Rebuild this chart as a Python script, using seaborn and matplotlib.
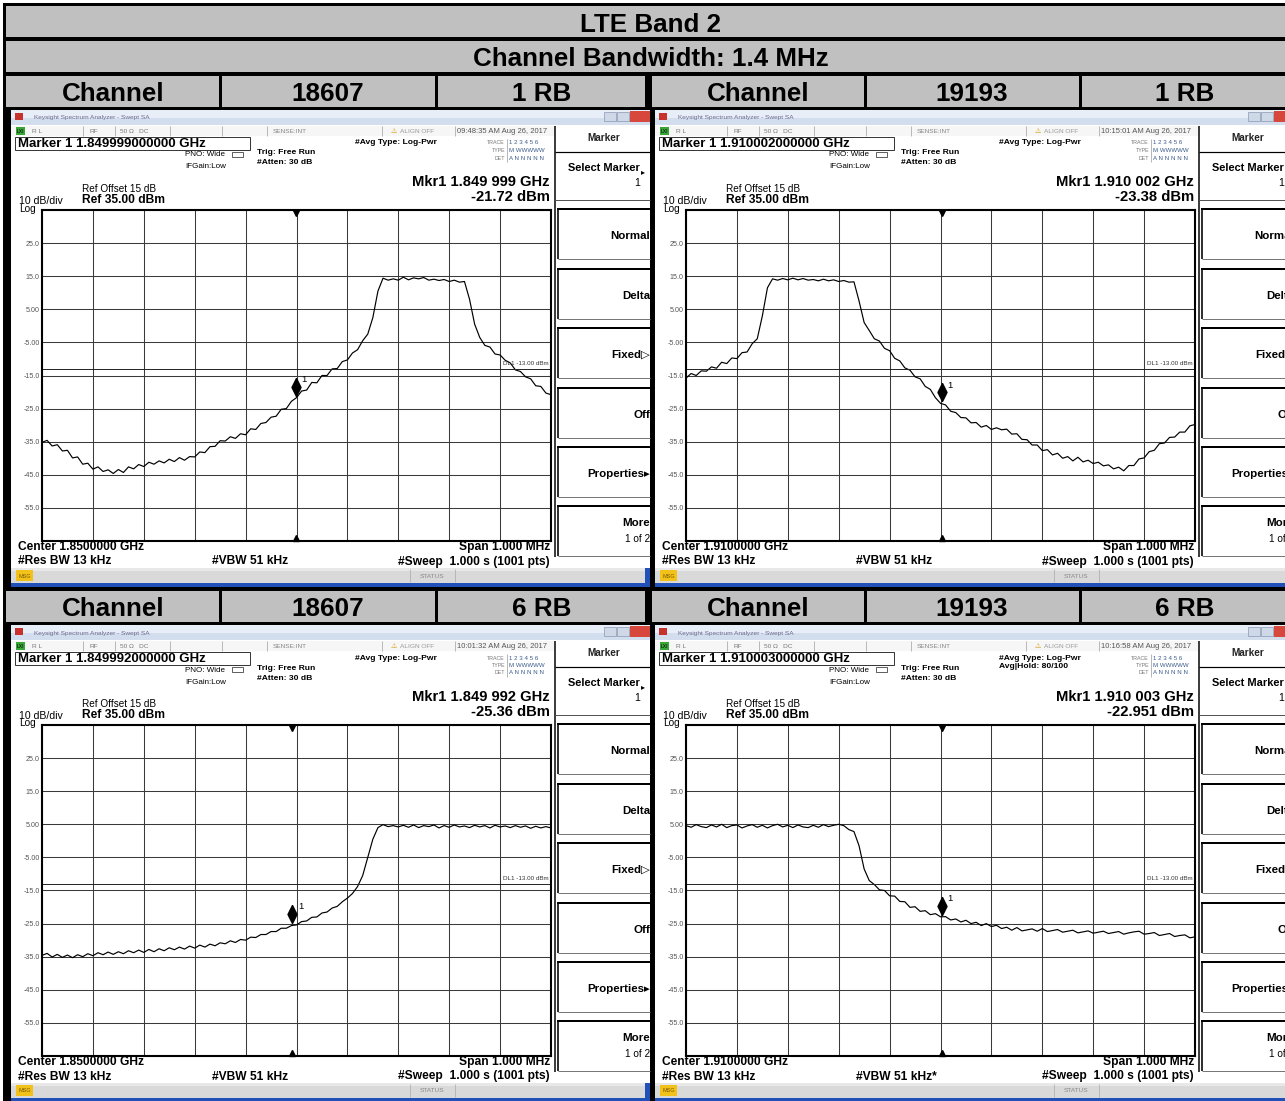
import numpy as np
import matplotlib
matplotlib.use("Agg")
import matplotlib.pyplot as plt
from matplotlib.patches import Rectangle
import seaborn as sns

W, H = 1285, 1101
PT = 0.72  # points per pixel at 100 dpi

# ---- table headings ----
band_title = "LTE Band 2"
bandwidth_title = "Channel Bandwidth: 1.4 MHz"
header_top = ["Channel", "18607", "1 RB", "Channel", "19193", "1 RB"]
header_bottom = ["Channel", "18607", "6 RB", "Channel", "19193", "6 RB"]

# ---- analyser screens (TL, TR, BL, BR) ----
marker_line = ["Marker 1 1.849999000000 GHz", "Marker 1 1.910002000000 GHz",
               "Marker 1 1.849992000000 GHz", "Marker 1 1.910003000000 GHz"]
mkr_freq = ["Mkr1 1.849 999 GHz", "Mkr1 1.910 002 GHz",
            "Mkr1 1.849 992 GHz", "Mkr1 1.910 003 GHz"]
mkr_level = ["-21.72 dBm", "-23.38 dBm", "-25.36 dBm", "-22.951 dBm"]
marker_offset_khz = [-1, 2, -8, 3]
marker_level_dbm = [-21.72, -23.38, -25.36, -22.951]
center_text = ["Center 1.8500000 GHz", "Center 1.9100000 GHz",
               "Center 1.8500000 GHz", "Center 1.9100000 GHz"]
clock_text = ["09:48:35 AM Aug 26, 2017", "10:15:01 AM Aug 26, 2017",
              "10:01:32 AM Aug 26, 2017", "10:16:58 AM Aug 26, 2017"]
vbw_text = ["#VBW 51 kHz", "#VBW 51 kHz", "#VBW 51 kHz", "#VBW 51 kHz*"]
avg_hold = [None, None, None, "Avg|Hold: 80/100"]
y_tick_labels = ["", "25.0", "15.0", "5.00", "-5.00", "-15.0", "-25.0",
                 "-35.0", "-45.0", "-55.0", ""]
ref_level = 35
db_per_div = 10
display_line = -13
span_khz = 1000
menu_keys = ["Normal", "Delta", "Fixed\u25B7", "Off", "Properties\u25B8", "More"]

# traces, 10 kHz steps from -500 kHz to +500 kHz (read from the screens)
trace_18607_1rb = [
    -35.2, -34.6, -36.3, -35.9, -37.8, -37.6, -39.9, -39.6, -41.8, -41.5,
    -43.3, -42.6, -44.0, -43.5, -44.6, -43.4, -44.3, -42.6, -43.2, -41.9,
    -42.5, -41.2, -41.8, -40.8, -41.4, -40.3, -41.0, -39.8, -40.6, -39.5,
    -39.6, -38.1, -38.3, -36.5, -36.4, -34.7, -34.8, -33.5, -34.0, -32.6,
    -32.9, -31.1, -31.3, -29.5, -29.2, -27.6, -27.3, -25.2, -25.0, -22.8,
    -21.7, -19.7, -19.4, -17.1, -17.2, -15.0, -15.0, -13.0, -12.9, -10.8,
    -10.3, -8.2, -7.2, -4.5, -2.5, 2.5, 10.5, 14.4, 13.8, 14.2,
    13.8, 14.7, 13.9, 14.5, 14.2, 14.6, 13.8, 14.1, 13.7, 14.0,
    13.4, 13.8, 13.2, 13.4, 8.0, 0.5, -3.5, -5.9, -6.4, -8.5,
    -8.8, -10.4, -11.2, -13.3, -13.8, -15.4, -16.0, -18.1, -18.3, -20.3,
    -20.8]
trace_19193_1rb = [
    -15.8, -14.4, -15.0, -13.6, -13.7, -12.4, -12.8, -11.0, -11.4, -9.7,
    -9.9, -8.1, -7.9, -5.4, -3.9, 3.0, 11.5, 14.2, 13.8, 14.3,
    13.9, 14.4, 13.9, 14.3, 13.8, 14.0, 13.6, 14.1, 13.6, 13.9,
    13.4, 13.7, 13.2, 13.3, 7.5, 1.0, -1.4, -3.9, -4.6, -6.8,
    -7.5, -9.8, -10.6, -12.7, -13.4, -15.4, -16.0, -18.3, -19.2, -21.7,
    -23.4, -23.9, -25.8, -26.2, -27.7, -27.8, -29.3, -29.2, -30.6, -30.1,
    -31.3, -30.8, -31.4, -31.2, -32.7, -32.6, -34.3, -34.4, -36.0, -36.0,
    -37.7, -37.4, -39.0, -38.5, -40.0, -39.5, -40.8, -39.7, -41.1, -40.6,
    -41.6, -41.2, -42.3, -42.0, -43.2, -42.7, -43.8, -42.2, -42.2, -40.2,
    -39.9, -38.0, -37.6, -35.6, -35.4, -33.7, -33.6, -32.1, -32.1, -30.2,
    -29.8]
trace_18607_6rb = [
    -34.6, -34.0, -35.1, -34.3, -35.2, -34.5, -35.3, -34.4, -35.0, -34.1,
    -34.7, -33.8, -34.4, -33.6, -34.3, -33.5, -34.1, -33.2, -33.8, -33.0,
    -33.7, -32.8, -33.5, -32.6, -33.2, -32.3, -32.9, -32.1, -32.7, -31.8,
    -32.4, -31.5, -32.1, -31.2, -31.7, -30.8, -31.1, -30.2, -30.7, -29.8,
    -30.0, -29.1, -29.2, -28.3, -28.3, -27.4, -27.4, -26.4, -26.4, -25.6,
    -25.4, -24.4, -24.2, -23.1, -23.0, -21.8, -21.5, -20.3, -19.8, -18.4,
    -17.3, -15.9, -13.8, -10.5, -5.0, 0.5, 4.0, 4.9, 4.3, 4.6,
    4.2, 4.7, 4.1, 4.8, 4.0, 4.6, 4.3, 4.8, 3.9, 4.6,
    4.1, 4.8, 4.2, 4.5, 4.0, 4.7, 4.2, 4.6, 3.9, 4.7,
    4.2, 4.5, 4.0, 4.6, 4.1, 4.5, 3.8, 4.4, 3.9, 4.3,
    3.9]
trace_19193_6rb = [
    4.6, 4.1, 4.9, 4.3, 4.0, 4.8, 4.2, 5.0, 4.0, 4.6,
    4.8, 3.9, 4.5, 4.9, 4.1, 4.7, 3.9, 4.6, 5.0, 4.2,
    4.7, 4.0, 4.8, 4.2, 4.0, 4.7, 4.1, 4.9, 4.3, 4.7,
    5.0, 4.6, 3.4, 2.8, -1.5, -8.5, -12.0, -13.2, -14.8, -15.0,
    -16.6, -16.7, -18.3, -18.4, -20.1, -19.9, -21.3, -21.1, -22.3, -22.0,
    -22.95, -22.9, -23.9, -23.6, -24.5, -24.0, -25.0, -24.6, -25.6, -25.0,
    -25.9, -25.5, -26.5, -26.1, -27.0, -26.2, -27.2, -26.9, -26.6, -27.3,
    -26.5, -27.4, -27.1, -26.8, -27.6, -27.3, -27.0, -27.8, -27.5, -27.2,
    -27.9, -27.6, -27.3, -28.0, -27.7, -27.4, -28.2, -27.8, -27.5, -27.3,
    -28.2, -28.0, -27.7, -28.6, -28.3, -28.0, -28.9, -28.6, -28.4, -29.3,
    -29.0]
traces = [trace_18607_1rb, trace_19193_1rb, trace_18607_6rb, trace_19193_6rb]

screen_origins = [(10, 110), (654, 110), (10, 625), (654, 625)]

sns.set_theme(style="white")
plt.rcParams['font.family'] = ['Liberation Sans', 'DejaVu Sans']
plt.rcParams['text.color'] = 'black'

fig = plt.figure(figsize=(W / 100, H / 100), dpi=100, facecolor='white')
base = fig.add_axes([0, 0, 1, 1])
base.set_xlim(0, W)
base.set_ylim(H, 0)
base.axis('off')


def rect(x, y, w, h, fc, ec='none', lw=0, z=1):
    base.add_patch(Rectangle((x, y), w, h, facecolor=fc, edgecolor=ec,
                             linewidth=lw, zorder=z))


# ---- table frame and headings ----
gray = '#c0c0c0'
rect(3, 3, W, H, 'black', z=0)
rect(6, 6, W, 31, gray)
rect(6, 41, W, 31, gray)
base.text(650, 22, band_title, ha='center', va='center_baseline',
          fontsize=26 * PT, fontweight='bold', color='black', zorder=5)
base.text(651, 57, bandwidth_title, ha='center', va='center_baseline',
          fontsize=26 * PT, fontweight='bold', color='black', zorder=5)

cell_centers = [113, 328, 542, 758, 972, 1185]
separators = [(219, 222), (435, 438), (645, 652), (864, 867), (1079, 1082)]


def header_row(y0, h, labels):
    rect(6, y0, W, h, gray)
    for x0, x1 in separators:
        rect(x0, y0, x1 - x0, h, 'black', z=2)
    for cx, s in zip(cell_centers, labels):
        base.text(cx, y0 + h / 2, s, ha='center', va='center_baseline',
                  fontsize=26 * PT, fontweight='bold', color='black', zorder=5)


header_row(76, 31, header_top)
header_row(591, 31, header_bottom)


def draw_screen(i, ox, oy, trace):
    def T(x, y, s, px, **kw):
        kw.setdefault('va', 'center')
        kw.setdefault('color', 'black')
        base.text(ox + x, oy + y, s, fontsize=px * PT, zorder=5, **kw)

    def R(x, y, w, h, fc, ec='none', lw=0):
        rect(ox + x, oy + y, w, h, fc, ec, lw, z=3)

    def L(xs, ys, c='black', lw=1.0):
        base.plot([ox + v for v in xs], [oy + v for v in ys], color=c,
                  lw=lw * PT, zorder=4, solid_capstyle='butt')

    R(1, 0, 639, 477, 'white')
    # window title bar
    R(1, 0, 639, 8, '#e8eef7')
    R(1, 8, 639, 7, '#d2ddee')
    R(5, 3, 8, 7, '#c8322d')
    T(24, 8, 'Keysight Spectrum Analyzer - Swept SA', 6.5, color='#6b6b8e')
    R(594, 2, 12, 9, '#cfd8e6', '#8898b2', 0.5)
    R(607, 2, 12, 9, '#cfd8e6', '#8898b2', 0.5)
    R(620, 1, 20, 11, '#d8473b')
    # status row
    R(1, 16, 544, 10, '#f6f6f6')
    R(6, 17, 9, 8, '#3aa63a')
    T(7, 21.5, 'LXI', 5)
    T(22, 21.5, 'R L', 6.5, color='#777')
    T(80, 21.5, 'RF', 6.5, color='#777')
    T(110, 21.5, '50 \u03A9   DC', 6.5, color='#777')
    T(263, 21.5, 'SENSE:INT', 6.5, color='#888')
    T(381, 21.5, '\u26A0', 7, color='#d09a00')
    T(390, 21.5, 'ALIGN OFF', 6.5, color='#999')
    T(447, 21.5, clock_text[i], 7.6, color='#555')
    for sx in [73, 105, 160, 212, 257, 372, 445]:
        L([sx, sx], [16, 26], '#aaa', 0.8)
    # marker line and settings
    R(5, 27, 235, 13, 'white', '#333', 0.7)
    T(8, 34, marker_line[i], 13.2, fontweight='bold')
    T(175, 45, 'PNO: Wide', 8)
    T(175, 57, 'IFGain:Low', 8)
    R(222, 42, 11, 5, 'white', '#444', 0.6)
    T(247, 43, 'Trig: Free Run', 8.5, fontweight='bold')
    T(247, 53, '#Atten: 30 dB', 8.5, fontweight='bold')
    T(345, 33, '#Avg Type: Log-Pwr', 8.5, fontweight='bold')
    if avg_hold[i]:
        T(345, 42, avg_hold[i], 8.5, fontweight='bold')
    T(495, 33, 'TRACE', 5.2, ha='right', color='#777')
    T(495, 40.5, 'TYPE', 5.2, ha='right', color='#777')
    T(495, 48, 'DET', 5.2, ha='right', color='#777')
    L([497, 497], [29, 52], '#888', 0.6)
    T(499, 33, '1 2 3 4 5 6', 6.2, color='#3c5c8c')
    T(499, 40.5, 'M WWWWW', 6.2, color='#3c5c8c')
    T(499, 48, 'A N N N N N', 6.2, color='#3c5c8c')
    T(540, 72, mkr_freq[i], 14.7, ha='right', fontweight='bold')
    T(540, 87, mkr_level[i], 14.7, ha='right', fontweight='bold')
    T(72, 79, 'Ref Offset 15 dB', 10)
    T(72, 90, 'Ref %.2f dBm' % ref_level, 12, fontweight='bold')
    T(9, 91, '%d dB/div' % db_per_div, 10.5)
    T(9, 98.5, 'Log', 10)
    # bottom annotations
    T(8, 437, center_text[i], 12, fontweight='bold')
    T(540, 437, 'Span %.3f MHz' % (span_khz / 1000), 12, ha='right', fontweight='bold')
    T(8, 451.5, '#Res BW 13 kHz', 12, fontweight='bold')
    T(202, 451.5, vbw_text[i], 12, fontweight='bold')
    T(540, 451.5, '#Sweep  1.000 s (1001 pts)', 12, ha='right', fontweight='bold')
    # status bar
    R(1, 458, 639, 15, '#d9d9d9')
    R(1, 458, 639, 3, '#e8e8e8')
    R(6, 460, 17, 11, '#f2c21b')
    T(14.5, 466, 'MSG', 5.5, ha='center', color='#7a5a00')
    T(422, 466, 'STATUS', 6.5, ha='center', color='#8a8a8a')
    L([400, 400], [459, 472], '#aaa', 0.7)
    L([445, 445], [459, 472], '#aaa', 0.7)
    R(1, 473, 639, 4, '#2150b8')
    R(635, 458, 5, 19, '#2150b8')
    # soft-key menu
    L([545, 545], [16, 447], 'black', 1.5)
    T(594, 28, 'Marker', 10, ha='center', fontweight='bold', color='#222')
    L([545, 640], [42, 42], 'black', 1.2)
    T(594, 58, 'Select Marker', 11, ha='center', fontweight='bold')
    T(633, 63, '\u25B8', 8, ha='center')
    T(630, 73, '1', 10.5, ha='right')
    L([545, 640], [90, 90], '#555', 1.0)
    for k, key in enumerate(menu_keys):
        top = [99, 159, 218, 278, 337, 396][k]
        L([547, 640], [top, top], 'black', 2.0)
        L([548, 548], [top, top + 50], 'black', 1.6)
        L([548, 640], [top + 50, top + 50], '#777', 1.0)
        if key == 'More':
            T(640, top + 17, key, 11.5, ha='right', fontweight='bold')
            T(640, top + 33, '1 of 2', 10, ha='right')
        else:
            T(640, top + 27, key, 11.5, ha='right', fontweight='bold')

    # ---- trace display ----
    px_l, px_t, px_w, px_h = ox + 32, oy + 100, 509, 331
    ax = fig.add_axes([px_l / W, 1 - (px_t + px_h) / H, px_w / W, px_h / H])
    ax.set_facecolor('white')
    freq = np.linspace(-span_khz / 2, span_khz / 2, len(trace))
    sns.lineplot(x=freq, y=trace, ax=ax, color='black', linewidth=0.85,
                 estimator=None)
    bottom_level = ref_level - 10 * db_per_div
    ax.set_xlim(-span_khz / 2, span_khz / 2)
    ax.set_ylim(bottom_level, ref_level)
    ax.set_xticks(np.arange(-span_khz / 2, span_khz / 2 + 1, span_khz / 10))
    ax.set_xticklabels([])
    ax.set_yticks(np.arange(ref_level, bottom_level - 1, -db_per_div))
    ax.set_yticklabels(y_tick_labels)
    ax.tick_params(length=0, pad=1.5, labelsize=7.2 * PT, labelcolor='#555')
    ax.grid(True, color='#3a3a3a', linewidth=0.75)
    for sp in ax.spines.values():
        sp.set_color('black')
        sp.set_linewidth(1.5)
    ax.axhline(display_line, color='#222', linewidth=0.7)
    ax.text(span_khz / 2 - 4, display_line + 0.8, 'DL1 %.2f dBm' % display_line,
            ha='right', va='bottom', fontsize=6.3 * PT, color='#333')
    mx, my = marker_offset_khz[i], marker_level_dbm[i]
    ax.plot([mx], [my + 3.3], marker=[(0, 1), (0.5, 0), (0, -1), (-0.5, 0), (0, 1)],
            markersize=18 * PT, color='black', linestyle='none')
    ax.annotate('1', (mx, my + 3.3), xytext=(4, 5), textcoords='offset points',
                fontsize=9.5 * PT, ha='left', va='center', color='black')
    ax.plot([mx], [ref_level - 0.8], marker='v', markersize=4, color='black', clip_on=False)
    ax.plot([mx], [bottom_level + 0.8], marker='^', markersize=4, color='black', clip_on=False)
    ax.set_xlabel('')
    ax.set_ylabel('')


for i, (ox, oy) in enumerate(screen_origins):
    draw_screen(i, ox, oy, traces[i])

fig.savefig('out.png', dpi=100, facecolor='white')
